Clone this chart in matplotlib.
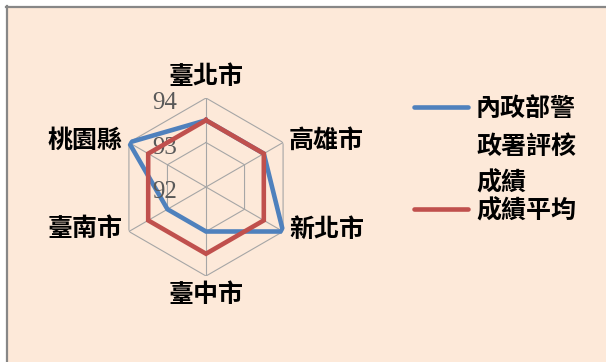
import numpy as np
import matplotlib
matplotlib.use("Agg")
import matplotlib.pyplot as plt
from matplotlib.lines import Line2D
from matplotlib.patches import Rectangle

cjk = ['Noto Sans CJK TC', 'DejaVu Sans']
plt.rcParams['font.family'] = cjk

# data
cities = ['臺北市', '高雄市', '新北市', '臺中市', '臺南市', '桃園縣']
score = [93.5, 93.5, 94.0, 93.0, 93.0, 94.0]
avg = [93.5, 93.5, 93.5, 93.5, 93.5, 93.5]
series_names = ['內政部警政署評核成績', '成績平均']
r_ticks = [92, 93, 94]

blue = '#4F81BD'
red = '#C0504D'
grid_c = '#A6A6A6'
bg = '#FDE9D9'

W, H = 606, 362
fig = plt.figure(figsize=(W / 100, H / 100), dpi=100, facecolor='white')

# chart area background + the two visible border lines
fig.add_artist(Rectangle((7 / W, 0), 1, 1 - 7 / H, transform=fig.transFigure,
                         facecolor=bg, edgecolor='none', zorder=-5))
fig.add_artist(Line2D([6 / W, 1], [1 - 7 / H, 1 - 7 / H], color='#878787', lw=1.6))
fig.add_artist(Line2D([7 / W, 7 / W], [0, 1 - 6 / H], color='#878787', lw=1.6))

cx, cy, R = 206, 187, 89
ax = fig.add_axes([(cx - R) / W, (H - cy - R) / H, 2 * R / W, 2 * R / H], polar=True)
ax.set_theta_offset(np.pi / 2)
ax.set_theta_direction(-1)
ax.set_ylim(r_ticks[0], r_ticks[-1])
ax.set_facecolor('none')
ax.grid(False)
ax.spines['polar'].set_visible(False)
ax.set_xticks([])
ax.set_yticks([])

n = len(cities)
theta = np.linspace(0, 2 * np.pi, n, endpoint=False)
tc = np.append(theta, theta[0])

# hexagon grid
for t in r_ticks[1:]:
    ax.plot(tc, [t] * (n + 1), color=grid_c, lw=0.8, zorder=1)
for th in theta:
    ax.plot([th, th], [r_ticks[0], r_ticks[-1]], color=grid_c, lw=0.8, zorder=1)

ax.plot(tc, score + score[:1], color=blue, lw=3.3, zorder=3, solid_joinstyle='miter')
ax.plot(tc, avg + avg[:1], color=red, lw=3.3, zorder=4, solid_joinstyle='miter')

# radial tick labels
for t in r_ticks:
    ax.annotate(str(t), xy=(0, t), xytext=(-29, -5), textcoords='offset pixels',
                ha='right', va='center', fontsize=18, color='#595959',
                family='Liberation Serif', annotation_clip=False)

# category labels
for th, name in zip(theta, cities):
    s = np.sin(th)
    c = np.cos(th)
    if abs(s) < 0.1:
        ha = 'center'
        va = 'bottom' if c > 0 else 'top'
        off = (0, 9) if c > 0 else (0, -7)
    else:
        ha = 'left' if s > 0 else 'right'
        va = 'center'
        off = (6 if s > 0 else -6, 2)
    ax.annotate(name, xy=(th, r_ticks[-1]), xytext=off, textcoords='offset pixels',
                ha=ha, va=va, fontsize=18, fontweight='semibold', color='black',
                annotation_clip=False)

# legend, drawn by hand so the line sits at the first text row
colors = [blue, red]
row_y = [[109, 147, 183], [211]]
for name, col, ys in zip(series_names, colors, row_y):
    rows = [name[i:i + 4] for i in range(0, len(name), 4)]
    fig.add_artist(Line2D([414 / W, 468 / W], [1 - (ys[0] - 2) / H] * 2,
                          color=col, lw=3.3, solid_capstyle='round'))
    for txt, y in zip(rows, ys):
        fig.text(476 / W, 1 - y / H, txt, ha='left', va='center', fontsize=18,
                 fontweight='semibold', color='black')

fig.savefig('out.png', dpi=100, facecolor=fig.get_facecolor())
